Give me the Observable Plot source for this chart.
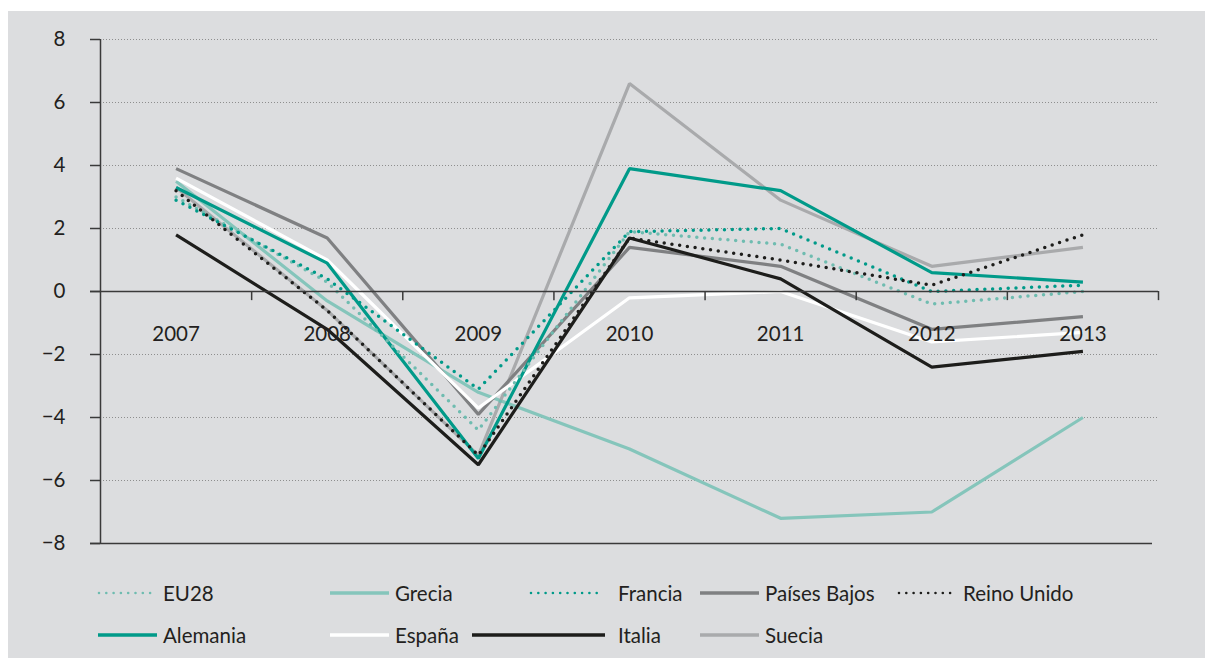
<!DOCTYPE html>
<html>
<head>
<meta charset="utf-8">
<script src="https://cdn.jsdelivr.net/npm/d3@7"></script>
<script src="https://cdn.jsdelivr.net/npm/@observablehq/plot@0.6"></script>
<style>
  html, body { margin: 0; padding: 0; background: #ffffff; }
  body { width: 1205px; height: 658px; position: relative; overflow: hidden; font-family: Lato, "Open Sans", sans-serif; color: #231f20; }
  #panel { position: absolute; left: 8px; top: 11px; width: 1197px; height: 647px; background: #dcdddf; }
  #chart { position: absolute; left: 0; top: 0; }
  #legend { position: absolute; left: 90px; top: 561px; display: grid;
            grid-template-columns: 232px 142px 228px 198px 220px; grid-auto-rows: 42px; }
  .item { display: flex; align-items: center; font-size: 20.5px; white-space: nowrap; }
  .item svg { display: block; flex: none; }
</style>
</head>
<body>
<div id="panel">
  <div id="chart"></div>
  <div id="legend"></div>
</div>
<script>
// ---- data ----
const years = [2007, 2008, 2009, 2010, 2011, 2012, 2013];
const eu28        = [3.0,  0.3, -4.4,  1.9,  1.5, -0.4,  0.0];
const grecia      = [3.5, -0.3, -3.2, -5.0, -7.2, -7.0, -4.0];
const francia     = [2.9,  0.4, -3.1,  1.9,  2.0,  0.0,  0.2];
const paisesBajos = [3.9,  1.7, -3.9,  1.4,  0.8, -1.2, -0.8];
const reinoUnido  = [3.2, -0.6, -5.2,  1.7,  1.0,  0.2,  1.8];
const alemania    = [3.3,  0.9, -5.3,  3.9,  3.2,  0.6,  0.3];
const espana      = [3.6,  1.0, -3.7, -0.2,  0.0, -1.6, -1.3];
const italia      = [1.8, -1.2, -5.5,  1.7,  0.4, -2.4, -1.9];
const suecia      = [3.3, -0.6, -5.2,  6.6,  2.9,  0.8,  1.4];
const yTicks = [8, 6, 4, 2, 0, -2, -4, -6, -8];

const seriesNames = ["EU28", "Grecia", "Francia", "Países Bajos", "Reino Unido",
                     "Alemania", "España", "Italia", "Suecia"];
const seriesValues = [eu28, grecia, francia, paisesBajos, reinoUnido,
                      alemania, espana, italia, suecia];

// ---- styles ----
const styles = {
  "EU28":         {color: "#6fbcb0", dotted: true},
  "Grecia":       {color: "#85c5bb", dotted: false},
  "Francia":      {color: "#009a89", dotted: true},
  "Países Bajos": {color: "#7f8082", dotted: false},
  "Reino Unido":  {color: "#1d1d1b", dotted: true},
  "Alemania":     {color: "#009a89", dotted: false},
  "España":       {color: "#ffffff", dotted: false},
  "Italia":       {color: "#1d1d1b", dotted: false},
  "Suecia":       {color: "#a9aaac", dotted: false}
};
const drawOrder = ["Grecia", "Suecia", "Países Bajos", "España", "Alemania",
                   "Italia", "EU28", "Francia", "Reino Unido"];

const rows = [];
seriesNames.forEach((name, i) => {
  years.forEach((year, j) => rows.push({series: name, year, value: seriesValues[i][j]}));
});

const bounds = years.map(y => y + 0.5);
const gridTicks = yTicks.filter(t => t !== 0 && t !== -8);

const lineMarks = drawOrder.map(name => {
  const s = styles[name];
  return Plot.line(rows.filter(d => d.series === name), {
    x: "year", y: "value",
    stroke: s.color,
    strokeWidth: s.dotted ? 3.5 : 3.2,
    strokeDasharray: s.dotted ? "0 7.8" : null,
    strokeLinecap: s.dotted ? "round" : "butt",
    strokeLinejoin: "miter"
  });
});

const chart = Plot.plot({
  width: 1197,
  height: 540,
  marginLeft: 92,
  marginRight: 47,
  marginTop: 28,
  marginBottom: 8,
  style: {background: "transparent", fontFamily: "Lato, 'Open Sans', sans-serif", color: "#231f20", overflow: "visible"},
  x: {type: "linear", domain: [2006.5, 2013.5], axis: null},
  y: {domain: [-8, 8], axis: null},
  marks: [
    Plot.ruleY(gridTicks, {stroke: "#8e8e8e", strokeWidth: 1, strokeDasharray: "1 2"}),
    Plot.ruleY([-8], {stroke: "#3a3a3a", strokeWidth: 1.5, insetLeft: -10, insetRight: 6}),
    Plot.axisY({ticks: yTicks, label: null, tickSize: 10, tickPadding: 25, fontSize: 20.5, stroke: "#3a3a3a", strokeWidth: 1.5, tickFormat: d3.format("")}),
    Plot.ruleX([2006.5], {y1: -8, y2: 8, stroke: "#3a3a3a", strokeWidth: 1.5}),
    ...lineMarks,
    Plot.ruleY([0], {stroke: "#3a3a3a", strokeWidth: 1.5, insetLeft: -10}),
    Plot.ruleX(bounds, {y1: 0, y2: -0.29, stroke: "#3a3a3a", strokeWidth: 1.5}),
    Plot.text(years, {x: d => d, y: 0, dy: 43, text: d => String(d), fontSize: 20.5, fill: "#231f20"})
  ]
});
document.getElementById("chart").appendChild(chart);

// ---- legend ----
const legendRows = [
  ["EU28", "Grecia", "Francia", "Países Bajos", "Reino Unido"],
  ["Alemania", "España", "Italia", "Suecia"]
];
const legendSwatch = {
  "Francia": {offset: 58, width: 73, gap: 15},
  "Italia":  {offset: 0, width: 133, gap: 13}
};
const legend = document.getElementById("legend");
legendRows.forEach((row, r) => {
  row.forEach((name, c) => {
    const s = styles[name];
    const sw = legendSwatch[name] || {offset: 0, width: 59, gap: 6};
    const item = document.createElement("div");
    item.className = "item";
    item.style.gridRow = String(r + 1);
    item.style.gridColumn = String(c + 1);
    const svg = d3.create("svg").attr("width", sw.width + 4).attr("height", 10)
      .style("margin-left", (sw.offset - 2) + "px");
    svg.append("line")
      .attr("x1", 2 + (s.dotted ? 1 : 0)).attr("x2", 2 + sw.width)
      .attr("y1", 5).attr("y2", 5)
      .attr("stroke", s.color)
      .attr("stroke-width", s.dotted ? 2.6 : 3.6)
      .attr("stroke-linecap", s.dotted ? "round" : "butt")
      .attr("stroke-dasharray", s.dotted ? "0 7.3" : null);
    item.appendChild(svg.node());
    const label = document.createElement("span");
    label.textContent = name;
    label.style.marginLeft = (sw.gap - 2) + "px";
    item.appendChild(label);
    legend.appendChild(item);
  });
});
</script>
</body>
</html>
